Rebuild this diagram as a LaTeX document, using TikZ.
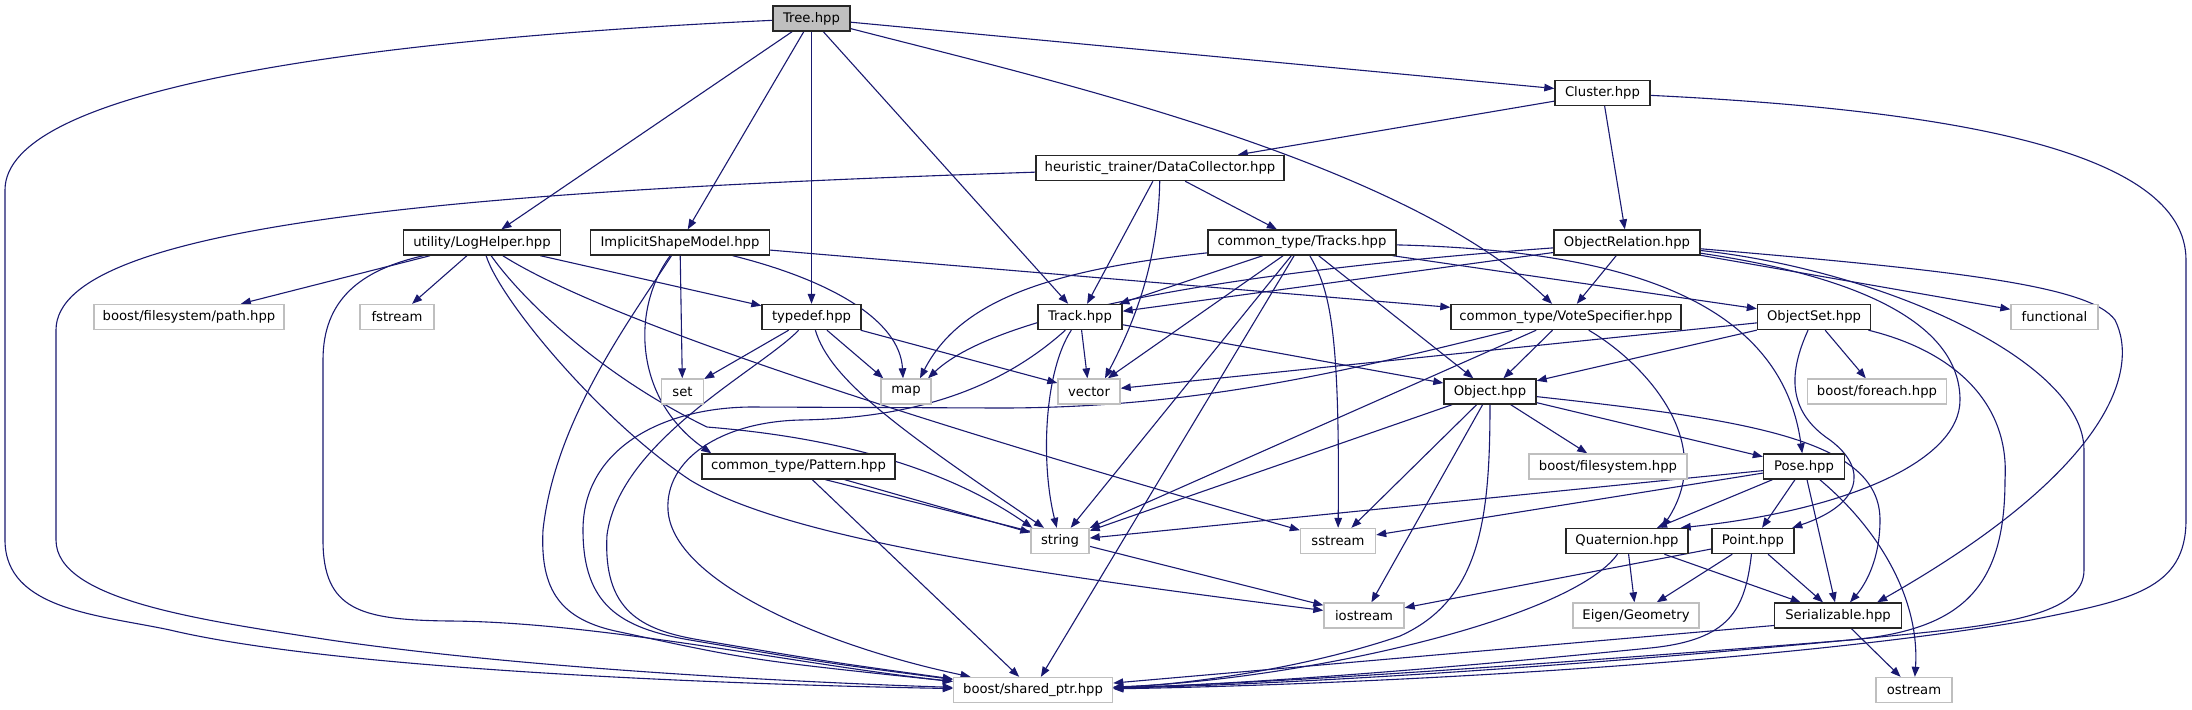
\documentclass[tikz,border=0pt]{standalone}
\usepackage{fontspec}
\setmainfont{DejaVu Sans}
\usetikzlibrary{arrows.meta,calc,backgrounds}
\definecolor{edgec}{HTML}{191970}
\definecolor{greyb}{HTML}{BFBFBF}
\begin{document}
\begin{tikzpicture}[x=0.5pt,y=-0.5pt,
  font=\fontsize{6.6}{7.9}\selectfont,
  doc/.style={draw=black!85, line width=0.7pt, fill=white, minimum height=12.5pt, inner xsep=1pt, inner ysep=0pt},
  ext/.style={draw=greyb, line width=0.7pt, fill=white, minimum height=12.5pt, inner xsep=1pt, inner ysep=0pt},
  edge/.style={draw=edgec, line width=0.55pt, -{Triangle[length=5pt,width=3.8pt]}}]
\useasboundingbox (0,0) rectangle (2192,709);
% row 1
\node[doc, fill=greyb, minimum width=38.5pt] (tree) at (811.5,18.5) {Tree.hpp};
% row 2
\node[doc, minimum width=47.5pt] (cluster) at (1602.5,93) {Cluster.hpp};
% row 3
\node[doc, minimum width=124pt] (dc) at (1160,168) {heuristic\_trainer/DataCollector.hpp};
% row 4
\node[doc, minimum width=78.5pt] (logh) at (482,242.5) {utility/LogHelper.hpp};
\node[doc, minimum width=89.5pt] (ism) at (680,242.5) {ImplicitShapeModel.hpp};
\node[doc, minimum width=94pt] (tracks) at (1302,242.5) {common\_type/Tracks.hpp};
\node[doc, minimum width=73pt] (objrel) at (1627,242.5) {ObjectRelation.hpp};
% row 5
\node[ext, minimum width=95pt] (path) at (189,317) {boost/filesystem/path.hpp};
\node[ext, minimum width=37pt] (fstream) at (397,317) {fstream};
\node[doc, minimum width=49.5pt] (typedef) at (811.5,317) {typedef.hpp};
\node[doc, minimum width=42pt] (track) at (1080,317) {Track.hpp};
\node[doc, minimum width=115pt] (vote) at (1566,317) {common\_type/VoteSpecifier.hpp};
\node[doc, minimum width=56.5pt] (objset) at (1814,317) {ObjectSet.hpp};
\node[ext, minimum width=43.5pt] (functional) at (2054.5,317) {functional};
% row 6
\node[ext, minimum width=21pt] (set) at (682.5,391.5) {set};
\node[ext, minimum width=25pt] (map) at (906,391.5) {map};
\node[ext, minimum width=31pt] (vector) at (1089,391.5) {vector};
\node[doc, minimum width=46pt] (object) at (1490,391.5) {Object.hpp};
\node[ext, minimum width=69.5pt] (foreach) at (1877,391.5) {boost/foreach.hpp};
% row 7
\node[doc, minimum width=96.5pt] (pattern) at (798.5,466.5) {common\_type/Pattern.hpp};
\node[ext, minimum width=79pt] (bfs) at (1608,466.5) {boost/filesystem.hpp};
\node[doc, minimum width=40.5pt] (pose) at (1804,466.5) {Pose.hpp};
% row 8
\node[ext, minimum width=29pt] (string) at (1060,541) {string};
\node[ext, minimum width=37.5pt] (sstream) at (1338,541) {sstream};
\node[doc, minimum width=61pt] (quat) at (1627,541) {Quaternion.hpp};
\node[doc, minimum width=41pt] (point) at (1753,541) {Point.hpp};
% row 9
\node[ext, minimum width=40pt] (iostream) at (1364,615.5) {iostream};
\node[ext, minimum width=63pt] (eigen) at (1636,615.5) {Eigen/Geometry};
\node[doc, minimum width=63.5pt] (serial) at (1838,615.5) {Serializable.hpp};
% row 10
\node[ext, minimum width=79.5pt] (sptr) at (1033,690) {boost/shared\_ptr.hpp};
\node[ext, minimum width=38pt] (ostream) at (1914,690) {ostream};

\begin{scope}[on background layer]
% Tree
\draw[edge] (tree) .. controls (350,40) and (5,90) .. (5,190) -- (5,540) .. controls (5,610) and (100,615) .. (170,630) .. controls (330,668) and (700,684) .. (sptr);
\draw[edge] (tree) -- (logh);
\draw[edge] (tree) -- (ism);
\draw[edge] (tree) -- (typedef);
\draw[edge] (tree) -- (track);
\draw[edge] (tree) .. controls (1050,80) and (1400,160) .. (vote);
\draw[edge] (tree) -- (cluster);
% Cluster
\draw[edge] (cluster) -- (dc);
\draw[edge] (cluster) -- (objrel);
\draw[edge] (cluster) .. controls (1950,110) and (2186,150) .. (2186,260) -- (2186,520) .. controls (2186,590) and (2130,600) .. (2031,620) .. controls (1750,668) and (1300,686) .. (sptr);
% DataCollector
\draw[edge] (dc) .. controls (500,190) and (56,220) .. (56,330) -- (56,540) .. controls (56,600) and (200,620) .. (330,640) .. controls (550,672) and (850,684) .. (sptr);
\draw[edge] (dc) -- (track);
\draw[edge] (dc) .. controls (1158,270) and (1130,330) .. ($(vector.north)+(16,0)$);
\draw[edge] (dc) -- (tracks);
% LogHelper
\draw[edge] (logh) -- (path);
\draw[edge] (logh) -- (fstream);
\draw[edge] (logh) -- (typedef);
\draw[edge] (logh) .. controls (360,270) and (323,300) .. (323,360) -- (323,540) .. controls (323,610) and (360,620) .. (450,621) .. controls (600,622) and (800,665) .. (sptr);
\draw[edge] (logh) .. controls (515,290) and (590,370) .. (707,427) .. controls (780,433) and (920,450) .. ($(string.north west)+(2,0)$);
\draw[edge] (logh) .. controls (500,300) and (600,420) .. (690,480) .. controls (780,535) and (1000,570) .. (iostream);
\draw[edge] (logh) .. controls (620,330) and (1000,445) .. (sstream);
% ImplicitShapeModel
\draw[edge] (ism) -- (set);
\draw[edge] (ism) .. controls (830,280) and (900,320) .. ($(map.north)+(-3,0)$);
\draw[edge] (ism) .. controls (630,310) and (635,400) .. ($(pattern.north west)+(10,0)$);
\draw[edge] (ism) .. controls (630,320) and (555,420) .. (543,530) .. controls (540,590) and (560,620) .. (620,632) .. controls (750,660) .. (sptr);
\draw[edge] (ism) -- (vote);
% Tracks
\draw[edge] (tracks) .. controls (1050,270) and (960,300) .. ($(map.north)+(14,0)$);
\draw[edge] (tracks) -- (track);
\draw[edge] (tracks) -- (vector);
\draw[edge] (tracks) -- (string);
\draw[edge] (tracks) -- (sptr);
\draw[edge] (tracks) .. controls (1330,290) and (1340,330) .. (sstream);
\draw[edge] (tracks) -- (object);
\draw[edge] (tracks) -- (objset);
\draw[edge] (tracks) .. controls (1600,250) and (1780,290) .. (pose);
% ObjectRelation
\draw[edge] (objrel) -- (track);
\draw[edge] (objrel) .. controls (1250,270) and (1000,310) .. ($(map.north)+(22,0)$);
\draw[edge] (objrel) -- (vote);
\draw[edge] (objrel) -- (functional);
\draw[edge] (objrel) .. controls (1850,275) and (1960,320) .. (1960,400) .. controls (1960,460) and (1850,510) .. ($(quat.north east)+(-8,0)$);
\draw[edge] (objrel) .. controls (1880,270) and (2084,360) .. (2084,450) -- (2084,570) .. controls (2084,615) and (2000,625) .. (1900,635) .. controls (1600,665) and (1300,684) .. (sptr);
\draw[edge] (objrel) .. controls (1950,270) and (2090,285) .. (2115,320) .. controls (2140,370) and (2110,470) .. ($(serial.north east)+(-25,0)$);
% typedef
\draw[edge] (typedef) -- (set);
\draw[edge] (typedef) -- ($(map.north west)+(3,0)$);
\draw[edge] (typedef) -- (vector);
\draw[edge] (typedef) .. controls (830,380) and (900,430) .. ($(string.north)+(-16,0)$);
\draw[edge] (typedef) .. controls (760,370) and (620,440) .. (607,535) .. controls (603,610) and (640,630) .. (700,640) .. controls (830,662) .. (sptr);
% Track
\draw[edge] (track) .. controls (1045,370) and (1040,460) .. (string);
\draw[edge] (track) -- (vector);
\draw[edge] (track) -- (object);
\draw[edge] (track) .. controls (1010,380) and (930,418) .. (800,420) .. controls (720,422) and (665,460) .. (668,510) .. controls (672,580) and (820,645) .. (sptr);
% VoteSpecifier
\draw[edge] (vote) .. controls (1350,370) and (1200,408) .. (1000,408) -- (750,407) .. controls (660,408) and (583,450) .. (583,530) .. controls (583,605) and (620,628) .. (690,640) .. controls (820,662) .. (sptr);
\draw[edge] (vote) -- (string);
\draw[edge] (vote) -- (object);
\draw[edge] (vote) .. controls (1640,360) and (1720,440) .. ($(quat.north)+(35,0)$);
% ObjectSet
\draw[edge] (objset) -- (vector);
\draw[edge] (objset) -- (object);
\draw[edge] (objset) -- (foreach);
\draw[edge] (objset) .. controls (1790,370) and (1785,410) .. (1830,440) .. controls (1870,470) and (1860,505) .. (point);
\draw[edge] (objset) .. controls (1950,350) and (2010,400) .. (2005,480) .. controls (2005,590) and (1960,630) .. (1850,640) .. controls (1500,668) and (1250,684) .. (sptr);
% Object
\draw[edge] (object) -- (string);
\draw[edge] (object) -- (sstream);
\draw[edge] (object) -- (iostream);
\draw[edge] (object) .. controls (1490,520) and (1480,600) .. (1400,636) .. controls (1300,670) and (1180,685) .. (sptr);
\draw[edge] (object) -- (bfs);
\draw[edge] (object) -- (pose);
\draw[edge] (object) .. controls (1750,420) and (1880,440) .. (1880,520) .. controls (1880,560) and (1865,585) .. ($(serial.north)+(12,0)$);
% Pattern
\draw[edge] (pattern) -- (string);
\draw[edge] ($(pattern.south)+(27,0)$) -- (iostream);
\draw[edge] (pattern) -- (sptr);
% Pose
\draw[edge] (pose) -- (string);
\draw[edge] (pose) -- (sstream);
\draw[edge] (pose) -- ($(quat.north)+(30,0)$);
\draw[edge] (pose) -- (point);
\draw[edge] (pose) -- (serial);
\draw[edge] (pose) .. controls (1880,530) and (1920,600) .. (ostream);
% Quaternion
\draw[edge] (quat) -- (eigen);
\draw[edge] (quat) -- (serial);
\draw[edge] (quat) .. controls (1570,620) and (1300,680) .. (sptr);
% Point
\draw[edge] (point) -- (iostream);
\draw[edge] (point) -- (eigen);
\draw[edge] (point) .. controls (1745,610) and (1730,640) .. (1650,648) .. controls (1450,668) and (1250,684) .. (sptr);
\draw[edge] (point) -- (serial);
% Serializable
\draw[edge] ($(serial.west)+(0,10)$) -- (sptr);
\draw[edge] (serial) -- (ostream);
\end{scope}
\end{tikzpicture}
\end{document}
